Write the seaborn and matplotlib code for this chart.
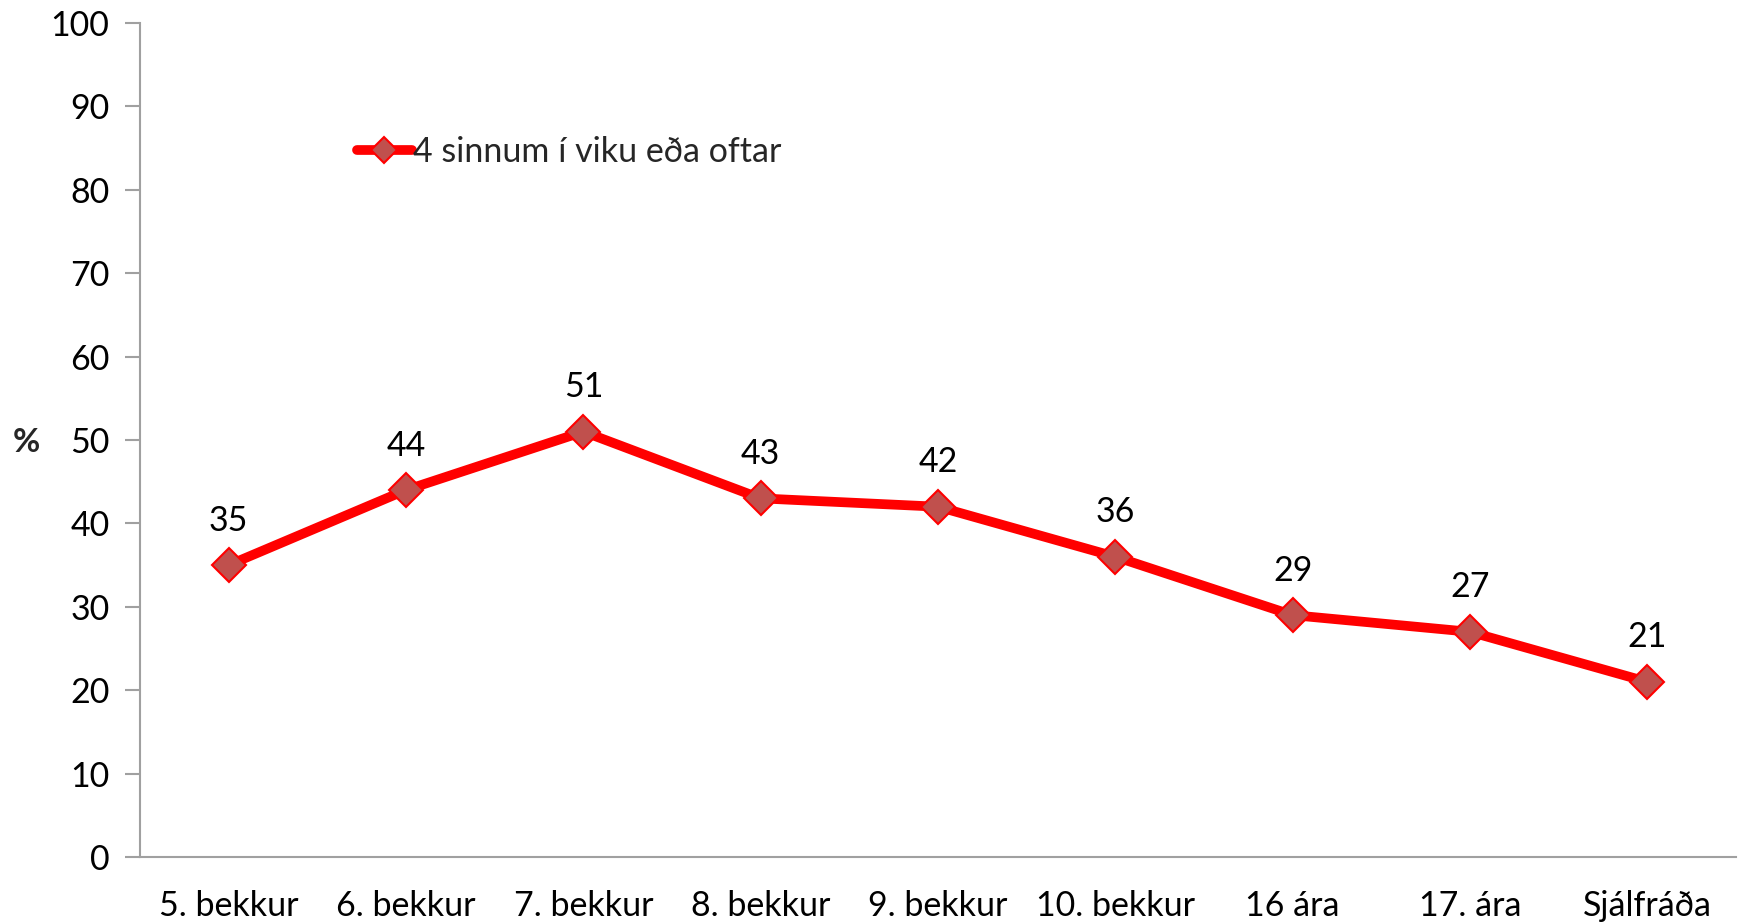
import matplotlib
matplotlib.use("Agg")
import matplotlib.pyplot as plt
import seaborn as sns
import pandas as pd
import numpy as np
from matplotlib.lines import Line2D

categories = ["5. bekkur", "6. bekkur", "7. bekkur", "8. bekkur", "9. bekkur",
              "10. bekkur", "16 ára", "17. ára", "Sjálfráða"]
values = [35, 44, 51, 43, 42, 36, 29, 27, 21]
series_name = "4 sinnum í viku eða oftar"
y_ticks = list(range(0, 101, 10))

sns.set_theme(style="white")
plt.rcParams['font.family'] = ['Lato', 'DejaVu Sans']

df = pd.DataFrame({"cat": categories, "val": values})

fig = plt.figure(figsize=(17.43, 9.24), dpi=100)
ax = fig.add_axes([140/1743, 1-857/924, (1736-140)/1743, (857-23)/924])

sns.lineplot(data=df, x="cat", y="val", ax=ax, color="#FF0000", linewidth=7,
             marker="D", markersize=17, markerfacecolor="#C0504D",
             markeredgecolor="#FF0000", markeredgewidth=1.5, sort=False)

ax.set_xlim(-0.5, len(categories) - 0.5)
ax.set_ylim(0, 100)
ax.set_yticks(y_ticks)
ax.set_yticklabels([str(t) for t in y_ticks], fontsize=24.5, color="black")
ax.set_xticks(range(len(categories)))
ax.set_xticklabels(categories, fontsize=24.5, color="black")
ax.set_xticks(np.arange(-0.5, len(categories), 1.0), minor=True)
ax.tick_params(axis="x", which="major", length=0, pad=24)
ax.tick_params(axis="x", which="minor", length=10, width=1.5, color="#A0A0A0")
ax.tick_params(axis="y", which="major", length=11, width=1.5, color="#A0A0A0", pad=11, left=True)
ax.set_xlabel("")
ax.set_ylabel("")
for s in ["top", "right"]:
    ax.spines[s].set_visible(False)
for s in ["left", "bottom"]:
    ax.spines[s].set_color("#A0A0A0")
    ax.spines[s].set_linewidth(1.5)

for i, v in enumerate(values):
    ax.annotate(str(v), (i, v), xytext=(0, 32), textcoords="offset points",
                ha="center", va="center", fontsize=24.5, color="black")

fig.text(26/1743, 1-443/924, "%", fontsize=24, fontweight="bold", ha="center", va="center")

handle = Line2D([0], [0], color="#FF0000", linewidth=7, marker="D", markersize=13,
                markerfacecolor="#C0504D", markeredgecolor="#FF0000", markeredgewidth=1.5)
leg = ax.legend([handle], [series_name], loc="center left",
                bbox_to_anchor=((343-140)/(1736-140), (857-152)/(857-23)),
                frameon=False, fontsize=24.5, handlelength=1.62, handletextpad=0.05,
                borderaxespad=0)

fig.savefig("out.png", dpi=100)
